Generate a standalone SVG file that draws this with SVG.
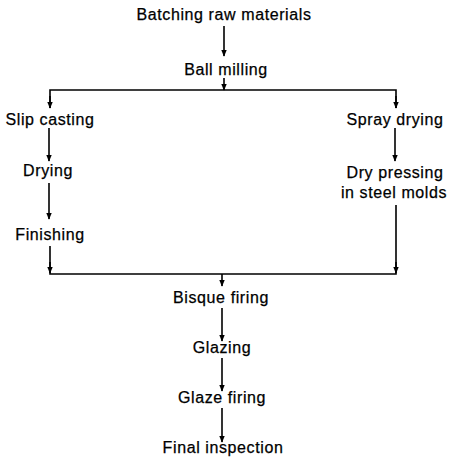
<svg xmlns="http://www.w3.org/2000/svg" width="450" height="464" viewBox="0 0 450 464">
<defs>
<marker id="ah" markerWidth="7" markerHeight="10" refX="9" refY="4" orient="auto" markerUnits="userSpaceOnUse" viewBox="0 0 10 8">
<path d="M0,0 L10,4 L0,8 z" fill="#000"/>
</marker>
<style>
text{font-family:"Liberation Sans",Arial,sans-serif;font-size:16px;letter-spacing:0.6px;fill:#000;stroke:#000;stroke-width:0.25;text-anchor:middle;}
.c{stroke:#000;stroke-width:1.6;fill:none;}
.a{marker-end:url(#ah);}
</style>
</defs>
<rect width="450" height="464" fill="#fff"/>
<g id="n1"><text x="224" y="20">Batching raw materials</text></g>
<g id="n2"><text x="226" y="75">Ball milling</text></g>
<g id="n3"><text x="50" y="125">Slip casting</text></g>
<g id="n4"><text x="48" y="176">Drying</text></g>
<g id="n5"><text x="50" y="240">Finishing</text></g>
<g id="n6"><text x="395" y="125">Spray drying</text></g>
<g id="n7"><text x="395" y="178">Dry pressing</text><text x="394" y="198">in steel molds</text></g>
<g id="n8"><text x="221" y="303">Bisque firing</text></g>
<g id="n9"><text x="222" y="353">Glazing</text></g>
<g id="n10"><text x="222" y="403">Glaze firing</text></g>
<g id="n11"><text x="223" y="453">Final inspection</text></g>
<g id="connectors">
<line class="c a" x1="224" y1="26" x2="224" y2="56"/>
<line class="c a" x1="224" y1="78" x2="224" y2="90"/>
<polyline class="c" points="50,108 50,90 396,90 396,108"/>
<line class="c a" x1="50" y1="96" x2="50" y2="108"/>
<line class="c a" x1="396" y1="96" x2="396" y2="108"/>
<line class="c a" x1="49" y1="128" x2="49" y2="161"/>
<line class="c a" x1="49" y1="183" x2="49" y2="219"/>
<line class="c a" x1="395" y1="128" x2="395" y2="161"/>
<polyline class="c" points="50,246 50,274 396,274 396,205"/>
<line class="c a" x1="50" y1="262" x2="50" y2="273"/>
<line class="c a" x1="396" y1="262" x2="396" y2="273"/>
<line class="c a" x1="222" y1="274" x2="222" y2="286"/>
<line class="c a" x1="222" y1="308" x2="222" y2="341"/>
<line class="c a" x1="222" y1="358" x2="222" y2="391"/>
<line class="c a" x1="222" y1="408" x2="222" y2="442"/>
</g>
</svg>
